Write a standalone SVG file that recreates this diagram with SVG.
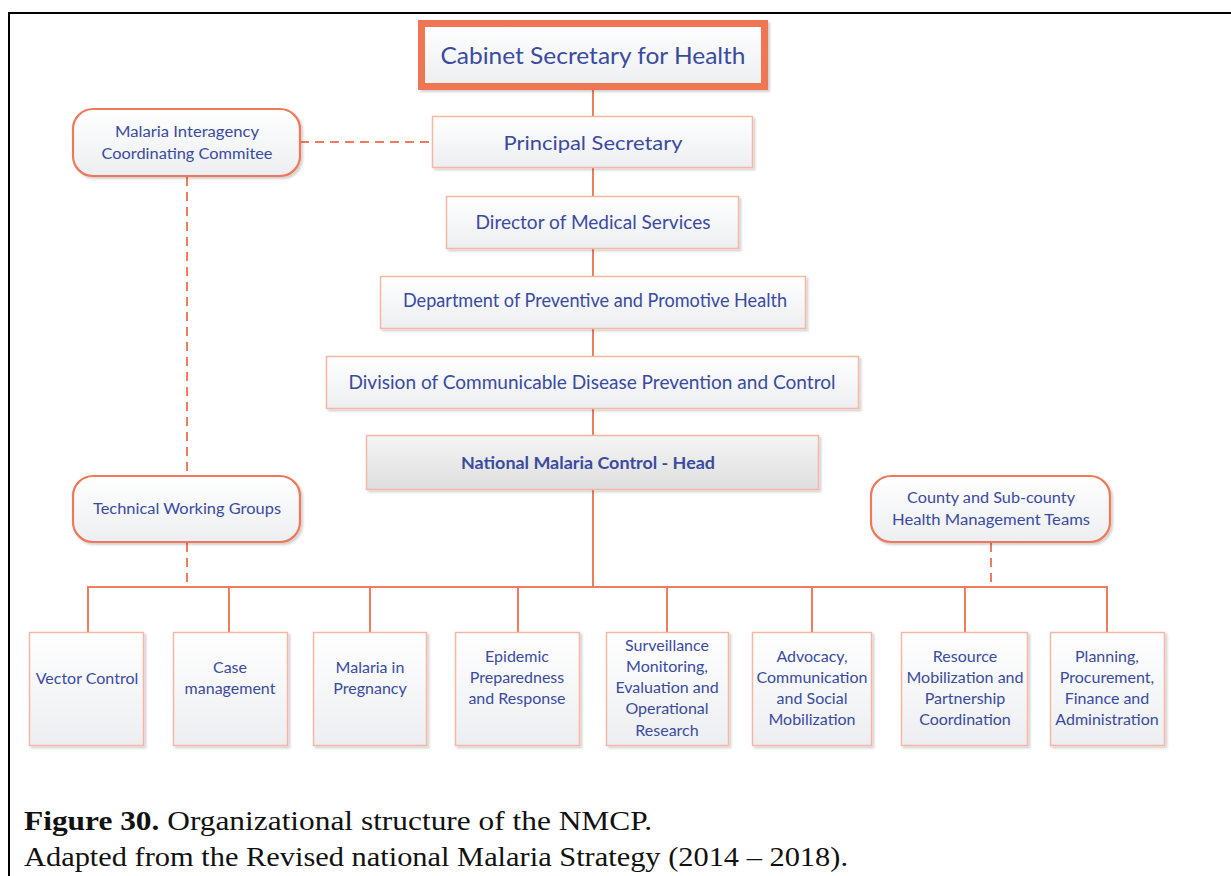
<svg xmlns="http://www.w3.org/2000/svg" width="1231" height="876" viewBox="0 0 1231 876">
  <style>
    .box { fill: url(#boxFill); stroke: #f6b6a4; stroke-width: 1.5; filter: url(#shadow); }
    .head { fill: url(#headFill); stroke: #f6b6a4; stroke-width: 1.5; filter: url(#shadow); }
    .round { fill: url(#boxFill); stroke: #f0785a; stroke-width: 2.2; filter: url(#shadow); }
    .top { fill: url(#boxFill); stroke: #f07452; stroke-width: 7; filter: url(#shadow); }
    .t { font-family: Lato, "Open Sans", sans-serif; fill: #3a4b9f; text-anchor: middle; }
    .small { font-size: 16px; }
    .link { stroke: #f07b5e; stroke-width: 2; fill: none; }
    .dash { stroke: #f07b5e; stroke-width: 2; fill: none; stroke-dasharray: 9 6; }
    .cap { font-family: "Liberation Serif", serif; font-size: 28px; fill: #111; }
  </style>
  <defs>
    <linearGradient id="boxFill" x1="0" y1="0" x2="0" y2="1">
      <stop offset="0" stop-color="#ffffff"/>
      <stop offset="1" stop-color="#eceef1"/>
    </linearGradient>
    <linearGradient id="headFill" x1="0" y1="0" x2="0" y2="1">
      <stop offset="0" stop-color="#f5f5f5"/>
      <stop offset="1" stop-color="#dedede"/>
    </linearGradient>
    <filter id="shadow" x="-10%" y="-10%" width="120%" height="130%">
      <feDropShadow dx="2" dy="2" stdDeviation="1.2" flood-color="#000" flood-opacity="0.18"/>
    </filter>
  </defs>

  <rect width="1231" height="876" fill="#ffffff"/>

  <!-- page frame -->
  <path d="M9 876 V13 H1231" fill="none" stroke="#000" stroke-width="2"/>

  <!-- connectors -->
  <g id="connectors">
    <line class="link" x1="593" y1="90" x2="593" y2="587"/>
    <line class="link" x1="87" y1="587" x2="1107" y2="587"/>
    <line class="link" x1="88" y1="586" x2="88" y2="632"/>
    <line class="link" x1="229" y1="586" x2="229" y2="632"/>
    <line class="link" x1="370" y1="586" x2="370" y2="632"/>
    <line class="link" x1="518" y1="586" x2="518" y2="632"/>
    <line class="link" x1="667" y1="586" x2="667" y2="632"/>
    <line class="link" x1="812" y1="586" x2="812" y2="632"/>
    <line class="link" x1="965" y1="586" x2="965" y2="632"/>
    <line class="link" x1="1107" y1="586" x2="1107" y2="632"/>
    <line class="dash" x1="300" y1="142" x2="432" y2="142"/>
    <line class="dash" x1="187" y1="177" x2="187" y2="475"/>
    <line class="dash" x1="187" y1="543" x2="187" y2="586"/>
    <line class="dash" x1="991" y1="543" x2="991" y2="586"/>
  </g>

  <!-- hierarchy -->
  <g id="cabinet-secretary">
    <rect class="top" x="421.5" y="23.5" width="343" height="63"/>
    <text class="t" x="593" y="64" font-size="24" textLength="305" lengthAdjust="spacingAndGlyphs">Cabinet Secretary for Health</text>
  </g>
  <g id="principal-secretary">
    <rect class="box" x="432.5" y="116.5" width="320" height="51"/>
    <text class="t" x="593" y="150" font-size="20" textLength="179" lengthAdjust="spacingAndGlyphs">Principal Secretary</text>
  </g>
  <g id="director-medical-services">
    <rect class="box" x="446.5" y="196.5" width="292" height="52"/>
    <text class="t" x="593" y="229" font-size="18.5" textLength="235" lengthAdjust="spacingAndGlyphs">Director of Medical Services</text>
  </g>
  <g id="dept-preventive-promotive">
    <rect class="box" x="380.5" y="276.5" width="425" height="52"/>
    <text class="t" x="595" y="307" font-size="18.5" textLength="384" lengthAdjust="spacingAndGlyphs">Department of Preventive and Promotive Health</text>
  </g>
  <g id="division-communicable-disease">
    <rect class="box" x="326.5" y="356.5" width="532" height="52"/>
    <text class="t" x="592" y="389" font-size="18.5" textLength="487" lengthAdjust="spacingAndGlyphs">Division of Communicable Disease Prevention and Control</text>
  </g>
  <g id="nmcp-head">
    <rect class="head" x="366.5" y="435.5" width="452" height="54"/>
    <text class="t" x="588" y="469" font-size="17" font-weight="bold" textLength="254" lengthAdjust="spacingAndGlyphs">National Malaria Control - Head</text>
  </g>

  <!-- advisory and coordination bodies -->
  <g id="micc">
    <rect class="round" x="73" y="109" width="227" height="67" rx="20"/>
    <text class="t" x="187" y="137" font-size="15.5" textLength="144" lengthAdjust="spacingAndGlyphs">Malaria Interagency</text>
    <text class="t" x="187" y="159" font-size="15.5" textLength="171" lengthAdjust="spacingAndGlyphs">Coordinating Commitee</text>
  </g>
  <g id="technical-working-groups">
    <rect class="round" x="73" y="476" width="227" height="66" rx="20"/>
    <text class="t" x="187" y="514" font-size="15.5" textLength="188" lengthAdjust="spacingAndGlyphs">Technical Working Groups</text>
  </g>
  <g id="county-teams">
    <rect class="round" x="871" y="476" width="239" height="66" rx="20"/>
    <text class="t" x="991" y="503" font-size="15.5" textLength="168" lengthAdjust="spacingAndGlyphs">County and Sub-county</text>
    <text class="t" x="991" y="525" font-size="15.5" textLength="198" lengthAdjust="spacingAndGlyphs">Health Management Teams</text>
  </g>

  <!-- programme areas -->
  <g id="vector-control">
    <rect class="box" x="29.5" y="632.5" width="114" height="113"/>
    <text class="t small" x="87" y="684">Vector Control</text>
  </g>
  <g id="case-management">
    <rect class="box" x="173.5" y="632.5" width="114" height="113"/>
    <text class="t small" x="230" y="673">Case</text>
    <text class="t small" x="230" y="694">management</text>
  </g>
  <g id="malaria-in-pregnancy">
    <rect class="box" x="313.5" y="632.5" width="113" height="113"/>
    <text class="t small" x="370" y="673">Malaria in</text>
    <text class="t small" x="370" y="694">Pregnancy</text>
  </g>
  <g id="epidemic-preparedness">
    <rect class="box" x="455.5" y="632.5" width="124" height="113"/>
    <text class="t small" x="517" y="662">Epidemic</text>
    <text class="t small" x="517" y="683">Preparedness</text>
    <text class="t small" x="517" y="704">and Response</text>
  </g>
  <g id="surveillance-me-or">
    <rect class="box" x="606.5" y="632.5" width="122" height="113"/>
    <text class="t small" x="667" y="651">Surveillance</text>
    <text class="t small" x="667" y="672">Monitoring,</text>
    <text class="t small" x="667" y="693">Evaluation and</text>
    <text class="t small" x="667" y="714">Operational</text>
    <text class="t small" x="667" y="736">Research</text>
  </g>
  <g id="advocacy-communication">
    <rect class="box" x="752.5" y="632.5" width="119" height="113"/>
    <text class="t small" x="812" y="662">Advocacy,</text>
    <text class="t small" x="812" y="683">Communication</text>
    <text class="t small" x="812" y="704">and Social</text>
    <text class="t small" x="812" y="725">Mobilization</text>
  </g>
  <g id="resource-mobilization">
    <rect class="box" x="901.5" y="632.5" width="126" height="113"/>
    <text class="t small" x="965" y="662">Resource</text>
    <text class="t small" x="965" y="683">Mobilization and</text>
    <text class="t small" x="965" y="704">Partnership</text>
    <text class="t small" x="965" y="725">Coordination</text>
  </g>
  <g id="planning-procurement">
    <rect class="box" x="1050.5" y="632.5" width="114" height="113"/>
    <text class="t small" x="1107" y="662">Planning,</text>
    <text class="t small" x="1107" y="683">Procurement,</text>
    <text class="t small" x="1107" y="704">Finance and</text>
    <text class="t small" x="1107" y="725">Administration</text>
  </g>

  <!-- caption -->
  <text class="cap" x="24" y="830" textLength="628" lengthAdjust="spacingAndGlyphs"><tspan font-weight="bold">Figure 30.</tspan> Organizational structure of the NMCP.</text>
  <text class="cap" x="24" y="866" textLength="824" lengthAdjust="spacingAndGlyphs">Adapted from the Revised national Malaria Strategy (2014 – 2018).</text>
</svg>
